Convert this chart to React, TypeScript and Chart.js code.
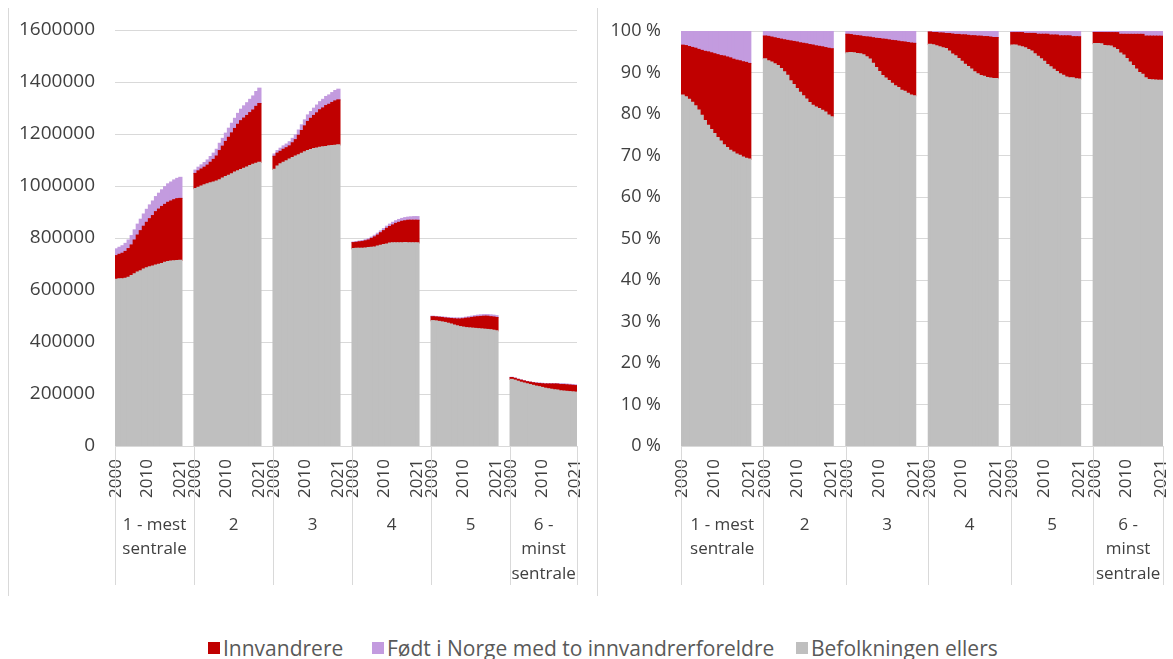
import React, { useEffect, useRef } from "react";
import { Chart, registerables } from "chart.js";

Chart.register(...registerables);

// ---------- data (population, thousands) ----------
const UNIT = 1000;
const years = ["2000","2001","2002","2003","2004","2005","2006","2007","2008","2009","2010","2011","2012","2013","2014","2015","2016","2017","2018","2019","2020","2021"];
const shownYears = ["2000", "2010", "2021"];
const groupNames: string[][] = [["1 - mest", "sentrale"], ["2"], ["3"], ["4"], ["5"], ["6 -", "minst", "sentrale"]];
const seriesNames = ["Innvandrere", "Født i Norge med to innvandrerforeldre", "Befolkningen ellers"];

const innvandrere1 = [91,94,98,103,110,118,130,142,154,165,175,185,194,205,212,219,223,228,231,235,238,238];
const fodt1 = [26,27,29,31,33,36,39,42,44,47,50,53,56,58,61,64,68,71,73,76,78,81];
const ellers1 = [641,643,643,645,649,655,662,669,674,680,685,689,692,696,699,702,706,709,711,712,713,714];

const innvandrere2 = [58,63,65,68,72,79,87,96,112,123,135,146,157,168,179,188,193,198,204,209,219,226];
const fodt2 = [13,14,16,18,20,22,24,26,28,30,32,35,37,39,42,44,47,49,51,54,57,59];
const ellers2 = [990,995,1000,1004,1008,1012,1015,1019,1024,1030,1036,1041,1047,1053,1058,1063,1068,1073,1078,1083,1087,1091];

const innvandrere3 = [50,49,48,50,50,51,57,63,75,87,100,112,120,127,135,144,149,157,160,166,171,173];
const fodt3 = [9,10,12,13,14,16,17,18,20,22,23,25,26,28,30,31,33,35,36,38,40,41];
const ellers3 = [1064,1077,1085,1091,1097,1103,1109,1115,1120,1126,1131,1136,1140,1144,1146,1149,1151,1152,1154,1155,1156,1158];

const innvandrere4 = [23,23,25,26,28,29,34,39,42,48,53,60,64,69,75,79,83,84,87,87,87,87];
const fodt4 = [2,3,3,4,4,5,5,6,7,7,8,8,9,10,10,11,11,12,12,13,14,14];
const ellers4 = [759,760,760,760,761,763,764,765,769,772,775,777,780,781,781,781,781,782,781,781,781,781];

const innvandrere5 = [15,15,16,17,17,19,21,24,26,29,32,36,38,41,44,46,48,50,51,50,51,51];
const fodt5 = [2,2,2,2,3,3,3,3,4,4,4,4,5,5,5,6,6,6,6,7,7,7];
const ellers5 = [482,481,479,477,475,472,469,465,462,459,457,455,454,453,452,451,450,449,448,447,445,443];

const innvandrere6 = [7,7,7,8,8,8,9,10,11,12,14,16,18,20,22,23,24,25,25,25,25,25];
const fodt6 = [1,1,1,1,1,1,1,1,2,2,2,2,2,2,2,2,3,3,3,3,3,3];
const ellers6 = [256,253,249,245,242,239,236,233,230,228,225,222,220,218,216,215,212,211,210,209,208,207];

const innvandrere = [innvandrere1, innvandrere2, innvandrere3, innvandrere4, innvandrere5, innvandrere6];
const fodt = [fodt1, fodt2, fodt3, fodt4, fodt5, fodt6];
const ellers = [ellers1, ellers2, ellers3, ellers4, ellers5, ellers6];

const COLORS = { innv: "#C00000", fodt: "#C39BDF", ellers: "#BFBFBF" };
const GAP = 4; // empty categories between groups
const FONT = "'Open Sans', 'DejaVu Sans', sans-serif";
const TEXT = "#404040";
const GRID = "#D9D9D9";

// ---------- build category table ----------
type Table = { labels: string[]; starts: number[]; ends: number[]; innv: (number | null)[]; fodt: (number | null)[]; ellers: (number | null)[] };

function buildTable(percent: boolean): Table {
  const t: Table = { labels: [], starts: [], ends: [], innv: [], fodt: [], ellers: [] };
  groupNames.forEach((_, g) => {
    t.starts.push(t.labels.length);
    years.forEach((y, i) => {
      const a = innvandrere[g][i] * UNIT;
      const b = fodt[g][i] * UNIT;
      const c = ellers[g][i] * UNIT;
      const tot = a + b + c;
      t.labels.push(y);
      t.innv.push(percent ? (a / tot) * 100 : a);
      t.fodt.push(percent ? (b / tot) * 100 : b);
      t.ellers.push(percent ? (c / tot) * 100 : c);
    });
    t.ends.push(t.labels.length - 1);
    if (g < groupNames.length - 1) {
      for (let k = 0; k < GAP; k++) {
        t.labels.push("");
        t.innv.push(null);
        t.fodt.push(null);
        t.ellers.push(null);
      }
    }
  });
  return t;
}

function groupAxisPlugin(t: Table) {
  return {
    id: "groupAxis",
    afterDraw(chart: any) {
      const x = chart.scales.x;
      const ctx = chart.ctx as CanvasRenderingContext2D;
      const bottom = chart.chartArea.bottom;
      const half = (x.getPixelForValue(1) - x.getPixelForValue(0)) / 2;
      ctx.save();
      ctx.strokeStyle = GRID;
      ctx.lineWidth = 1;
      const lefts = t.starts.map((s) => x.getPixelForValue(s) - half);
      const lastRight = x.getPixelForValue(t.ends[t.ends.length - 1]) + half;
      const edges = [...lefts, lastRight];
      edges.forEach((px) => {
        const xx = Math.round(px) + 0.5;
        ctx.beginPath();
        ctx.moveTo(xx, bottom);
        ctx.lineTo(xx, bottom + 139);
        ctx.stroke();
      });
      ctx.fillStyle = TEXT;
      ctx.font = `17px ${FONT}`;
      ctx.textAlign = "center";
      ctx.textBaseline = "middle";
      groupNames.forEach((lines, g) => {
        const cx = (edges[g] + edges[g + 1]) / 2;
        lines.forEach((ln, k) => ctx.fillText(ln, cx, bottom + 79 + k * 24.5));
      });
      ctx.restore();
    },
  };
}

function makeConfig(percent: boolean): any {
  const t = buildTable(percent);
  return {
    type: "bar",
    data: {
      labels: t.labels,
      datasets: [
        { label: seriesNames[2], data: t.ellers, backgroundColor: COLORS.ellers },
        { label: seriesNames[0], data: t.innv, backgroundColor: COLORS.innv },
        { label: seriesNames[1], data: t.fodt, backgroundColor: COLORS.fodt },
      ],
    },
    options: {
      animation: false,
      responsive: false,
      devicePixelRatio: 1,
      layout: { padding: percent ? { top: 23, right: 10, bottom: 0, left: 0 } : { top: 22, right: 20, bottom: 0, left: 0 } },
      plugins: { legend: { display: false }, tooltip: { enabled: false } },
      datasets: { bar: { barPercentage: 1, categoryPercentage: 1, borderWidth: 0, inflateAmount: 0.6 } },
      scales: {
        x: {
          stacked: true,
          grid: { display: false, drawTicks: false },
          border: { display: false },
          ticks: {
            autoSkip: false,
            maxRotation: 90,
            minRotation: 90,
            padding: 13,
            color: TEXT,
            font: { family: FONT, size: 17 },
            callback: (_v: any, i: number) => (shownYears.includes(t.labels[i]) ? t.labels[i] : ""),
          },
          afterFit: (s: any) => {
            s.height = 152;
            s.paddingLeft = 0;
            s.paddingRight = 0;
          },
        },
        y: {
          stacked: true,
          min: 0,
          max: percent ? 100 : 1600000,
          ticks: {
            stepSize: percent ? 10 : 200000,
            padding: 20,
            color: TEXT,
            font: { family: FONT, size: percent ? 18 : 19 },
            callback: (v: any) => (percent ? `${v} %` : String(v)),
          },
          grid: { color: GRID, lineWidth: 1, drawTicks: false },
          border: { display: false },
          afterFit: (s: any) => {
            s.width = percent ? 83 : 106;
            s.paddingTop = 0;
            s.paddingBottom = 0;
          },
        },
      },
    },
    plugins: [groupAxisPlugin(t)],
  };
}

function ChartCanvas({ percent, left, width }: { percent: boolean; left: number; width: number }) {
  const ref = useRef<HTMLCanvasElement | null>(null);
  useEffect(() => {
    if (!ref.current) return;
    const chart = new Chart(ref.current, makeConfig(percent));
    return () => chart.destroy();
  }, [percent]);
  return (
    <canvas
      ref={ref}
      width={width}
      height={590}
      style={{ position: "absolute", left, top: 8, width, height: 590 }}
    />
  );
}

const legendItems = [
  { name: seriesNames[0], color: COLORS.innv, x: 208 },
  { name: seriesNames[1], color: COLORS.fodt, x: 372 },
  { name: seriesNames[2], color: COLORS.ellers, x: 796 },
];

export default function App() {
  return (
    <div style={{ position: "absolute", left: 0, top: 0, width: 1173, height: 659, overflow: "hidden", background: "#fff" }}>
      <div style={{ position: "absolute", left: 8, top: 8, width: 1, height: 588, background: GRID }} />
      <div style={{ position: "absolute", left: 597, top: 8, width: 1, height: 588, background: GRID }} />
      <ChartCanvas percent={false} left={9} width={588} />
      <ChartCanvas percent={true} left={598} width={575} />
      {legendItems.map((it) => (
        <div
          key={it.name}
          style={{ position: "absolute", left: it.x, top: 634, display: "flex", alignItems: "center", whiteSpace: "nowrap", font: `21px ${FONT}`, color: "#595959", lineHeight: "28px" }}
        >
          <span style={{ display: "inline-block", width: 12, height: 12, background: it.color, marginRight: 3 }} />
          <span>{it.name}</span>
        </div>
      ))}
    </div>
  );
}
